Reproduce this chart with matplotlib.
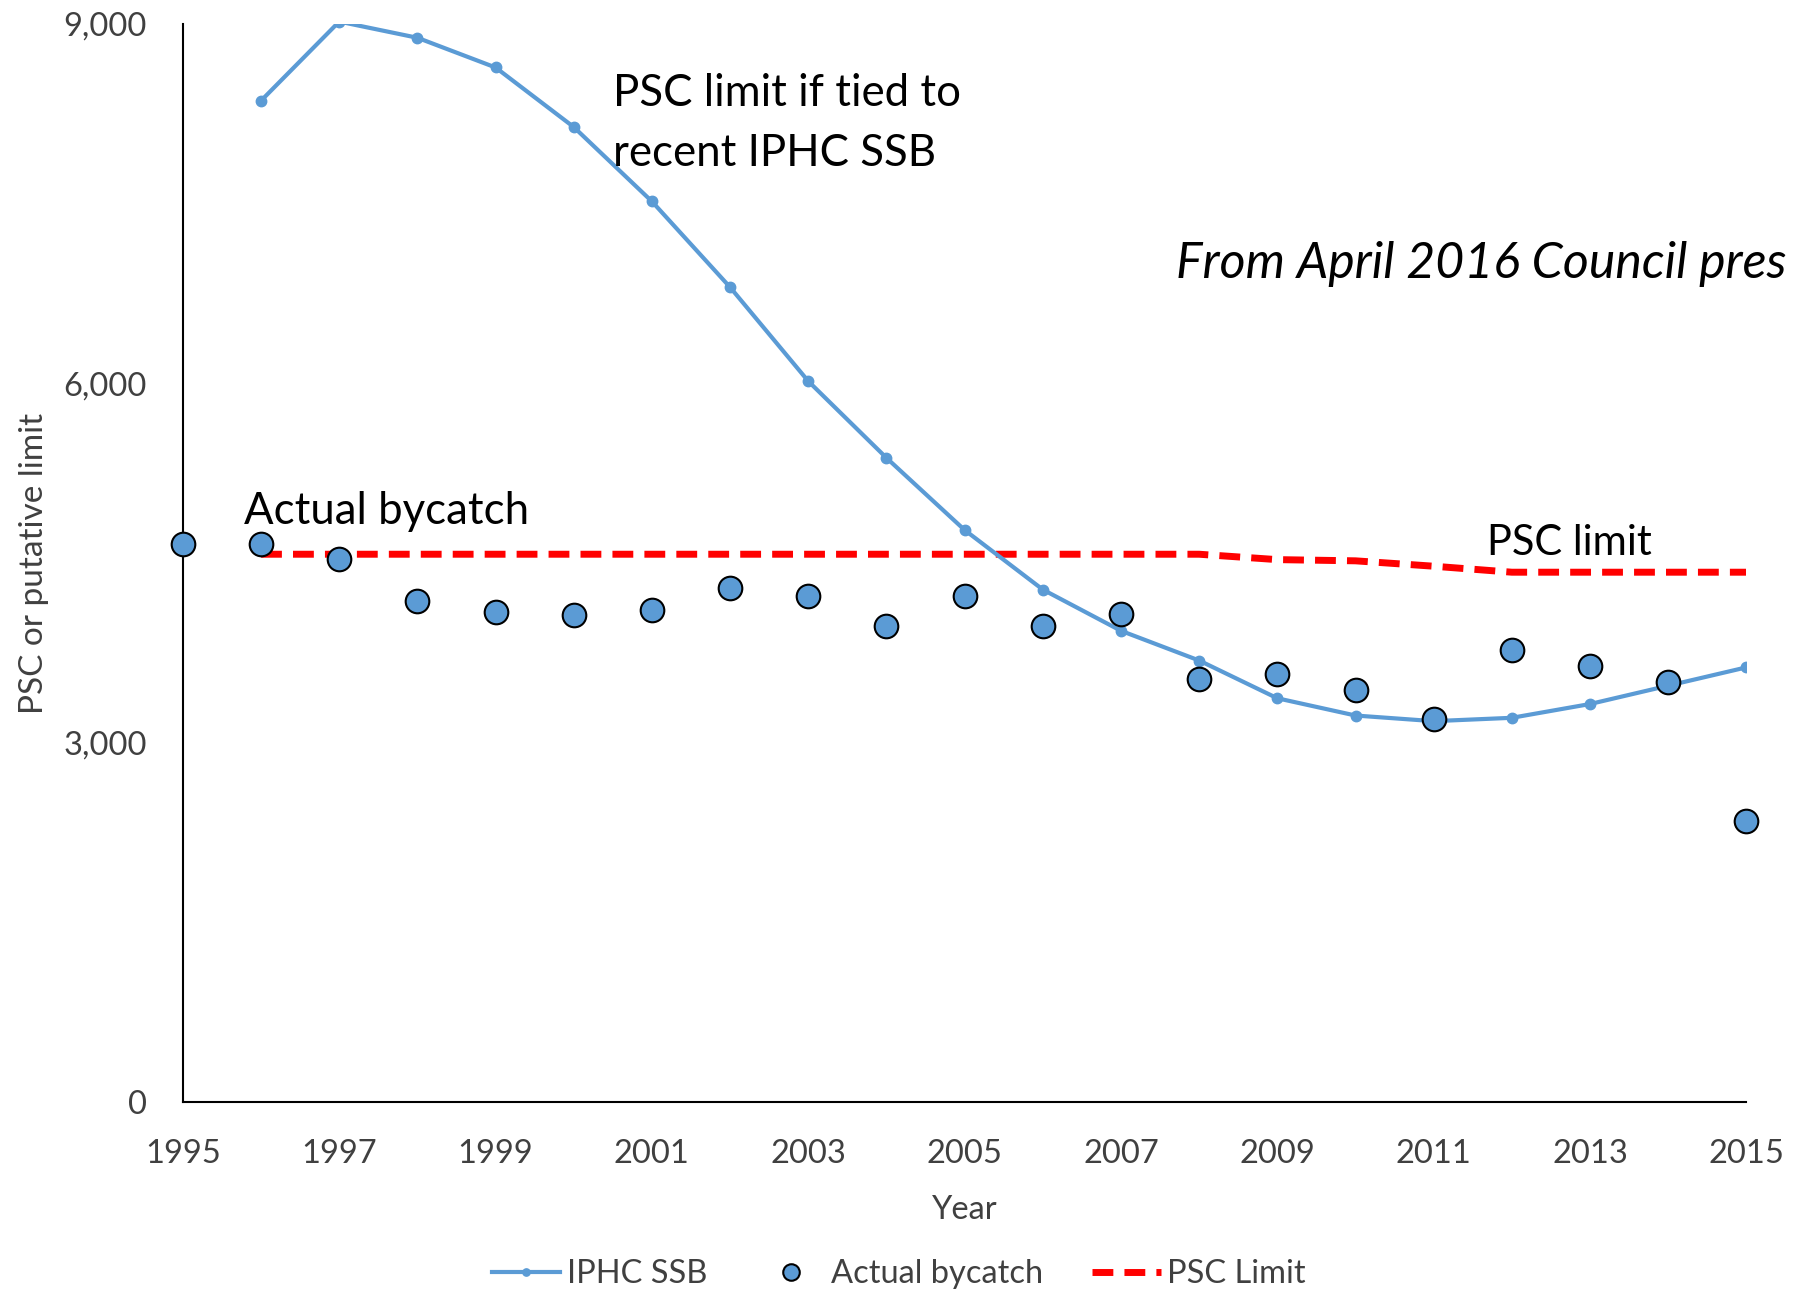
import matplotlib.pyplot as plt
import numpy as np

plt.rcParams['font.family'] = ['Lato', 'DejaVu Sans']

years_ssb = np.arange(1996, 2016)
ssb = [8360, 9020, 8885, 8637, 8140, 7519, 6803, 6019, 5379, 4777,
       4280, 3936, 3688, 3373, 3229, 3182, 3210, 3325, 3478, 3631]

years_bycatch = np.arange(1995, 2016)
bycatch = [4662, 4662, 4538, 4185, 4089, 4070, 4108, 4290, 4223, 3975, 4223,
           3975, 4080, 3535, 3573, 3439, 3201, 3774, 3640, 3506, 2350]

years_psc = np.arange(1996, 2016)
psc = [4575, 4575, 4575, 4575, 4575, 4575, 4575, 4575, 4575, 4575,
       4575, 4575, 4575, 4530, 4520, 4475, 4425, 4425, 4425, 4425]

blue = "#5B9BD5"

fig = plt.figure(figsize=(17.93, 12.97), dpi=100)
ax = fig.add_axes([0.102, 0.150, 0.872, 0.8315])

ax.plot(years_ssb, ssb, color=blue, lw=3, marker="o", ms=7.5,
        label="IPHC SSB", zorder=3)
ax.plot(years_psc, psc, color="#FF0000", lw=5, ls=(0, (3, 1.6)),
        label="PSC Limit", zorder=2)
ax.plot(years_bycatch, bycatch, ls="none", marker="o", ms=17,
        mfc=blue, mec="black", mew=1.5, label="Actual bycatch",
        zorder=4, clip_on=False)

ax.set_xlim(1995, 2015)
ax.set_ylim(0, 9000)
ax.set_xticks(range(1995, 2016, 2))
ax.set_yticks([0, 3000, 6000, 9000])
ax.set_yticklabels(["0", "3,000", "6,000", "9,000"])

for s in ["top", "right"]:
    ax.spines[s].set_visible(False)
for s in ["left", "bottom"]:
    ax.spines[s].set_linewidth(1.5)
    ax.spines[s].set_color("black")

ax.tick_params(length=0, labelsize=23.5, colors="#404040", pad=26)
ax.tick_params(axis="x", pad=26)

ax.set_xlabel("Year", fontsize=23.5, color="#404040", labelpad=19)
ax.set_ylabel("PSC or putative limit", fontsize=24, color="#404040",
              labelpad=10)

ax.text(2000.5, 8170, "PSC limit if tied to\nrecent IPHC SSB",
        fontsize=31.5, va="center", linespacing=1.55)
ax.text(1995.78, 4930, "Actual bycatch", fontsize=31.5, va="center")
ax.text(2011.68, 4670, "PSC limit", fontsize=30, va="center")
ax.text(2007.7, 7000, "From April 2016 Council pres", fontsize=36,
        style="italic", va="center", clip_on=False)

handles, labels = ax.get_legend_handles_labels()
order = [0, 2, 1]
ax.legend([handles[i] for i in order], [labels[i] for i in order],
          loc="upper center", bbox_to_anchor=(0.458, -0.118), ncol=3,
          frameon=False, fontsize=23.5, handlelength=2.1, columnspacing=1.5,
          handletextpad=0.2, labelcolor="#404040", markerscale=0.7)

plt.savefig("out.png", dpi=100)
plt.close()
